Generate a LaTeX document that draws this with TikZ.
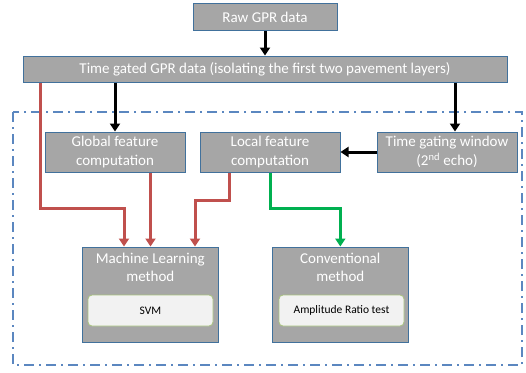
\documentclass[tikz,border=0pt]{standalone}
\usepackage{fontspec}
\setmainfont{Carlito}
\usetikzlibrary{arrows.meta,calc}
\definecolor{boxfill}{HTML}{A6A6A6}
\definecolor{boxline}{HTML}{41719C}
\definecolor{redarr}{HTML}{C0504D}
\definecolor{greenarr}{HTML}{00B050}
\definecolor{dashblue}{HTML}{5B87C0}
\definecolor{innerline}{HTML}{A9C47F}
\definecolor{innerfill}{HTML}{F2F2F2}
\tikzset{
  gbox/.style={draw=boxline, line width=1pt, fill=boxfill, text=white, align=center, inner sep=0pt,
    font=\fontsize{15}{18.5}\selectfont},
  ibox/.style={draw=innerline, line width=0.8pt, fill=innerfill, rounded corners=4pt, inner sep=0pt,
    font=\fontsize{11.5}{13}\selectfont, text=black},
  blk/.style={line width=3pt, -{Triangle[length=8pt,width=10pt]}},
  redc/.style={blk, draw=redarr, color=redarr},
  grnc/.style={blk, draw=greenarr, color=greenarr},
}
\begin{document}
\begin{tikzpicture}[x=1pt,y=-1pt]
\useasboundingbox (0,0) rectangle (526,372);
\draw[dashblue, line width=1.5pt, dash pattern=on 10pt off 5pt on 2pt off 5pt] (13,112) rectangle (522,365);
\node[gbox, minimum width=144pt, minimum height=27pt] (raw) at (265,17) {Raw GPR data};
\node[gbox, minimum width=484pt, minimum height=26pt] (tg) at (265,69) {Time gated GPR data (isolating the first two pavement layers)};
\node[gbox, minimum width=140pt, minimum height=40pt] (glob) at (115,152) {Global feature\\computation};
\node[gbox, minimum width=140pt, minimum height=40pt] (loc) at (270,152) {Local feature\\computation};
\node[gbox, minimum width=140pt, minimum height=40pt] (tgw) at (447,152) {Time gating window\\(2\textsuperscript{nd} echo)};
\node[gbox, minimum width=135.5pt, minimum height=95pt] (ml) at (150.3,294.5) {};
\node[gbox, anchor=north, draw=none, fill=none] (mlt) at ($(ml.north)+(0,6)$) {Machine Learning\\method};
\node[gbox, minimum width=135.5pt, minimum height=95pt] (conv) at (340.3,294.5) {};
\node[gbox, anchor=north, draw=none, fill=none] (convt) at ($(conv.north)+(0,6)$) {Conventional\\method};
\node[ibox, minimum width=125pt, minimum height=31pt] (svm) at (150.5,310.5) {SVM};
\node[ibox, minimum width=125pt, minimum height=31pt] (amp) at (341.5,310.5) {Amplitude Ratio test};

\draw[blk] (raw.south) -- (tg.north);
\draw[blk] (tg.south -| glob.north) -- (glob.north);
\draw[blk] (tg.south -| 455,0) -- (tgw.north -| 455,0);
\draw[blk] (tgw.west) -- (loc.east);
\draw[redc] (tg.south -| 40,0) |- (124,208) -- (ml.north -| 124,0);
\draw[redc] (glob.south -| 150.5,0) -- (ml.north -| 150.5,0);
\draw[redc] (loc.south -| 229,0) |- (195,200) -- (ml.north -| 195,0);
\draw[grnc] (loc.south) |- ($(conv.north)+(0,-38)$) -- (conv.north);
\end{tikzpicture}
\end{document}
